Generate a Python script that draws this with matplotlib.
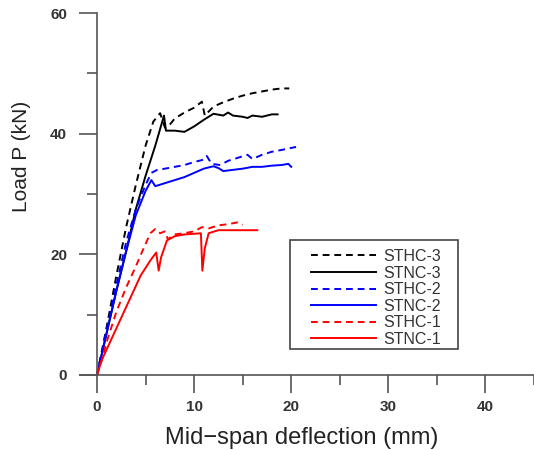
import numpy as np
import matplotlib.pyplot as plt
from matplotlib.ticker import MultipleLocator
from matplotlib.patches import Rectangle

plt.rcParams['font.family'] = ['Liberation Sans', 'DejaVu Sans']

# load-deflection curves (mm, kN)
sthc3_x = [0, 1, 2, 3, 4, 5, 5.8, 6.5, 7, 7.5, 8, 9, 10, 10.8, 11.1, 12, 13, 14, 15, 16, 17, 18, 19, 19.8]
sthc3_y = [0, 8, 16.5, 24.5, 31.5, 38, 42, 43.4, 41, 41.5, 42.5, 43.5, 44.3, 45.3, 43, 44.5, 45.2, 45.8, 46.3, 46.7, 47, 47.3, 47.5, 47.5]

stnc3_x = [0, 1, 2, 3, 4, 5, 6, 6.9, 7.1, 8, 9, 10, 11, 12, 13, 13.5, 14, 15, 15.5, 16, 17, 18, 18.6]
stnc3_y = [0, 7, 14, 20.5, 27.5, 33, 38, 43, 40.5, 40.5, 40.3, 41.2, 42.3, 43.3, 43, 43.5, 43, 42.8, 42.6, 43, 42.8, 43.2, 43.2]

sthc2_x = [0, 1, 2, 3, 4, 5, 5.6, 6.2, 7, 8, 9, 10, 11, 11.3, 11.8, 12.7, 13.5, 14.5, 15.5, 16, 17, 18, 19, 20.5]
sthc2_y = [0, 7.5, 15, 22, 27.5, 31.5, 33.5, 34, 34.2, 34.5, 34.8, 35.3, 35.7, 36.3, 35, 34.8, 35.5, 36, 36.5, 35.8, 36.5, 37, 37.3, 37.8]

stnc2_x = [0, 1, 2, 3, 4, 5, 5.6, 6, 7, 8, 9, 10, 11, 12, 12.5, 13, 14, 15, 16, 17, 18, 19, 19.7, 20]
stnc2_y = [0, 7, 14, 20.5, 26.5, 30.5, 32.3, 31.3, 31.8, 32.3, 32.8, 33.5, 34.2, 34.6, 34.3, 33.8, 34, 34.2, 34.5, 34.5, 34.7, 34.8, 35, 34.5]

sthc1_x = [0, 0.5, 1, 2, 3, 4, 4.8, 5.5, 6, 6.5, 7, 7.3, 8, 9, 10, 10.8, 11.5, 12.5, 13.5, 14.5, 15]
sthc1_y = [0, 2.5, 5.5, 10.5, 14.5, 18, 21, 23.5, 24.2, 23.5, 23.8, 22.5, 23.3, 23.5, 23.8, 24.5, 24.3, 24.8, 25, 25.3, 24.9]

stnc1_x = [0, 0.5, 1.5, 2.5, 3.5, 4.5, 5.5, 6.1, 6.35, 6.6, 7.2, 8, 9, 10, 10.7, 10.85, 11.1, 11.5, 12.5, 14, 16.5]
stnc1_y = [0, 2.5, 6, 9.5, 13, 16.5, 19, 20.3, 17.3, 19.5, 22.3, 23, 23.3, 23.4, 23.5, 17.3, 21, 23.5, 24, 24, 24]

series = [
    ('STHC-3', sthc3_x, sthc3_y, 'black', '--'),
    ('STNC-3', stnc3_x, stnc3_y, 'black', '-'),
    ('STHC-2', sthc2_x, sthc2_y, 'blue', '--'),
    ('STNC-2', stnc2_x, stnc2_y, 'blue', '-'),
    ('STHC-1', sthc1_x, sthc1_y, 'red', '--'),
    ('STNC-1', stnc1_x, stnc1_y, 'red', '-'),
]

W, H = 534, 450
fig = plt.figure(figsize=(W / 100, H / 100), dpi=100)
ax = fig.add_axes([80 / W, 75 / H, 454 / W, 362 / H])

for name, xs, ys, col, ls in series:
    ax.plot(xs, ys, color=col, linestyle=ls, linewidth=1.4, label=name, clip_on=False,
            dashes=(3.5, 2.5) if ls == '--' else (None, None))

ax.set_xlim(-1.75, 45)
ax.set_ylim(0, 60)

ax.spines['top'].set_visible(False)
ax.spines['right'].set_visible(False)
ax.spines['left'].set_position(('data', 0))
for s in ('left', 'bottom'):
    ax.spines[s].set_color('#555555')
    ax.spines[s].set_linewidth(1.2)

ax.xaxis.set_minor_locator(MultipleLocator(5))
ax.yaxis.set_major_locator(MultipleLocator(20))
ax.yaxis.set_minor_locator(MultipleLocator(10))
ax.set_xticks([0, 10, 20, 30, 40])
ax.tick_params(which='major', length=13, width=1.2, color='#555555', direction='out',
               labelsize=11, labelcolor='#333333')
ax.tick_params(which='minor', length=7, width=1.2, color='#555555', direction='out')
ax.tick_params(axis='x', which='major', pad=5)
ax.tick_params(axis='y', which='major', pad=8.5)
for lab in ax.get_xticklabels() + ax.get_yticklabels():
    lab.set_fontweight('bold')

fig.text(22 / W, 1 - 156 / H, 'Load P (kN)', rotation=90, fontsize=15,
         ha='center', va='center', color='#222222')
fig.text(302 / W, 1 - 438 / H, 'Mid\u2212span deflection (mm)', fontsize=17,
         ha='center', va='center', color='#222222')

# legend box drawn separately so its padding matches the original
fig.patches.append(Rectangle((290 / W, 1 - 349 / H), 168 / W, 109 / H,
                             transform=fig.transFigure, fill=False,
                             edgecolor='#444444', linewidth=1.2, zorder=5))
leg = fig.legend(*ax.get_legend_handles_labels(), loc='upper left',
                 bbox_to_anchor=(311 / W, 1 - 249 / H),
                 fontsize=11.5, handlelength=4.1, frameon=False,
                 labelspacing=0.1, borderpad=0, handletextpad=0.4, borderaxespad=0)
for t in leg.get_texts():
    t.set_color('#333333')

fig.savefig('out.png', dpi=100)
